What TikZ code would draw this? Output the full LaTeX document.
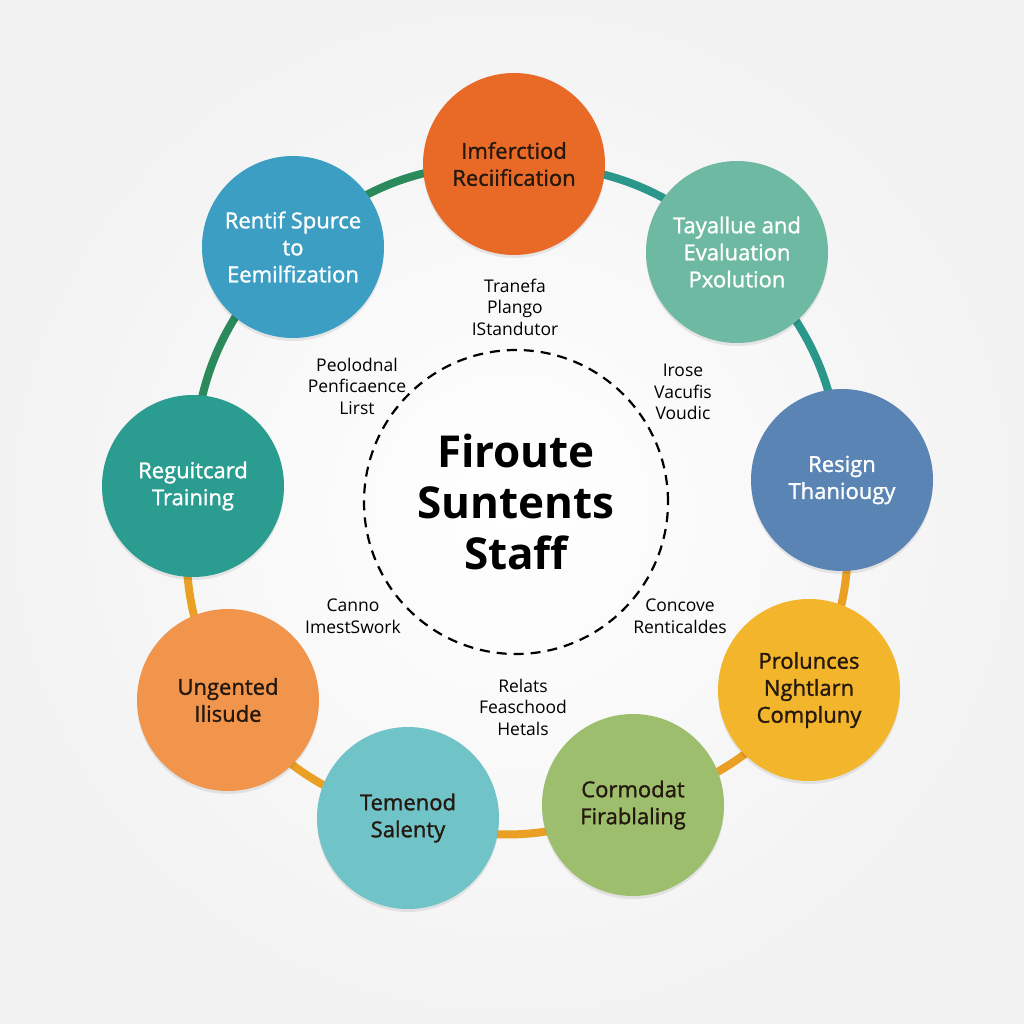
\documentclass[tikz,border=0pt]{standalone}
\usepackage{fontspec}
\setmainfont{Open Sans}
\newfontfamily\semib[FakeBold=1.3]{Open Sans}
\usetikzlibrary{backgrounds,shadows}
\definecolor{cOrange}{HTML}{E96A26}
\definecolor{cSea}{HTML}{6DB9A1}
\definecolor{cSky}{HTML}{3C9EC2}
\definecolor{cSteel}{HTML}{5A84B3}
\definecolor{cTeal}{HTML}{2B9C90}
\definecolor{cYellow}{HTML}{F2B52B}
\definecolor{cApricot}{HTML}{F0954B}
\definecolor{cAqua}{HTML}{70C3C7}
\definecolor{cOlive}{HTML}{9DBE6C}
\definecolor{cInk}{HTML}{24180F}
\definecolor{lnGreen}{HTML}{2A8A5C}
\definecolor{lnTeal}{HTML}{2A978A}
\definecolor{lnAmber}{HTML}{E9A024}
\tikzset{
  bubble/.style={circle, minimum size=182pt, inner sep=0pt, align=center,
    font=\semib\fontsize{22}{27}\selectfont,
    drop shadow={shadow xshift=0pt, shadow yshift=-3pt, opacity=0.08, fill=black}},
  lite/.style={text=white},
  dark/.style={text=cInk},
  ring/.style={line width=8pt},
  side/.style={align=center, font=\fontsize{17.5}{21.5}\selectfont, text=black},
}
\begin{document}
\begin{tikzpicture}[x=1pt, y=-1pt]
\useasboundingbox (0,0) rectangle (1024,1024);

\node[bubble, lite, fill=cSky]    (rs) at (293,247) {Rentif Spurce\\to\\Eemilfization};
\node[bubble, dark, fill=cOrange] (ir) at (514,164) {Imferctiod\\Reciification};
\node[bubble, lite, fill=cSea]    (te) at (737,252) {Tayallue and\\Evaluation\\Pxolution};
\node[bubble, lite, fill=cSteel]  (rt) at (842,480) {Resign\\Thaniougy};
\node[bubble, dark, fill=cYellow] (pn) at (809,690) {Prolunces\\Nghtlarn\\Compluny};
\node[bubble, dark, fill=cOlive]  (cf) at (633,805) {Cormodat\\Firablaling};
\node[bubble, dark, fill=cAqua]   (ts) at (408,818) {Temenod\\Salenty};
\node[bubble, dark, fill=cApricot](ui) at (228,700) {Ungented\\Ilisude};
\node[bubble, lite, fill=cTeal]   (rg) at (193,486) {Reguitcard\\Training};

\begin{pgfonlayer}{background}
\shade[inner color=white, outer color=black!5] (0,0) rectangle (1024,1024);
\draw[ring, lnGreen] (rs.center) to[bend left=21] (ir.center);
\draw[ring, lnTeal]  (ir.center) to[bend left=21] (te.center);
\draw[ring, lnTeal]  (te.center) to[bend left=22] (rt.center);
\draw[ring, lnAmber] (rt.center) to[bend left=18] (pn.center);
\draw[ring, lnAmber] (pn.center) to[bend left=18] (cf.center);
\draw[ring, lnAmber] (cf.center) to[bend left=20] (ts.center);
\draw[ring, lnAmber] (ts.center) to[bend left=18] (ui.center);
\draw[ring, lnAmber] (ui.center) to[bend left=19] (rg.center);
\draw[ring, lnGreen] (rg.center) to[bend left=23] (rs.center);
\end{pgfonlayer}

\node[circle, draw=black, line width=2.2pt, dash pattern=on 10pt off 7pt,
  minimum size=304pt, inner sep=0pt, align=center,
  font=\bfseries\fontsize{44}{51}\selectfont] (hub) at (516,502) {Firoute\\Suntents\\Staff};

\node[side] (l1) at (515,307) {Tranefa\\Plango\\IStandutor};
\node[side] (l2) at (357,386) {Peolodnal\\Penficaence\\Lirst};
\node[side] (l3) at (683,392) {Irose\\Vacufis\\Voudic};
\node[side] (l4) at (353,616) {Canno\\ImestSwork};
\node[side] (l5) at (680,616) {Concove\\Renticaldes};
\node[side] (l6) at (523,707) {Relats\\Feaschood\\Hetals};
\end{tikzpicture}
\end{document}
